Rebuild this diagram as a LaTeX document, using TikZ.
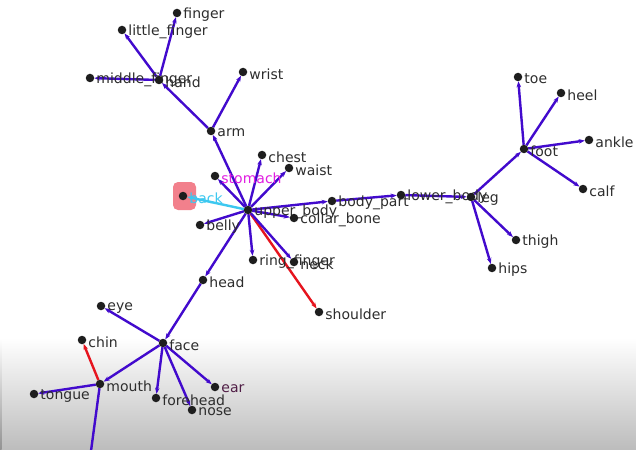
\documentclass[tikz,border=0pt]{standalone}
\usepackage{fontspec}
\setmainfont{DejaVu Sans}
\usetikzlibrary{arrows.meta}
\definecolor{edgec}{RGB}{66,10,205}
\definecolor{dotc}{RGB}{30,30,30}
\definecolor{txtc}{RGB}{45,45,45}
\definecolor{redc}{RGB}{230,20,30}
\definecolor{cyanc}{RGB}{60,200,240}
\definecolor{magc}{RGB}{225,30,225}
\definecolor{pinkc}{RGB}{242,128,140}
\pgfdeclarelayer{bg}
\pgfdeclarelayer{edges}
\pgfsetlayers{bg,edges,main}
\tikzset{
  dot/.style={circle, fill=dotc, minimum size=8.5pt, inner sep=0pt, outer sep=0pt},
  lab/.style={anchor=west, inner sep=0pt, font=\fontsize{14}{15}\selectfont, text=txtc},
  edge/.style={draw=edgec, line width=2.4pt, -{Stealth[length=6pt,width=4.5pt]}},
  redge/.style={edge, draw=redc, -{Stealth[length=6pt,width=4.5pt,fill=redc]}},
  cedge/.style={edge, draw=cyanc}
}
\begin{document}
\begin{tikzpicture}[x=1pt, y=-1pt]
\useasboundingbox (0,0) rectangle (636,449);
\begin{pgfonlayer}{bg}
  \fill[white] (0,0) rectangle (636,449);
  \shade[top color=white, bottom color=gray!52] (0,338) rectangle (636,449);
  \shade[top color=white, bottom color=gray!85] (0,338) rectangle (1.5,449);
  \fill[pinkc, rounded corners=5pt] (173,182) rectangle (196,210);
\end{pgfonlayer}
\foreach \n/\x/\y/\t in {
  finger/177/13/finger, littlefinger/122/30/little\_finger, middlefinger/90/78/middle\_finger,
  hand/159/80/hand, wrist/243/72/wrist, arm/211/131/arm, chest/262/155/chest,
  waist/289/168/waist, upperbody/248/210/upper\_body, bodypart/332/201/body\_part,
  collarbone/294/218/collar\_bone, belly/200/225/belly, ringfinger/253/260/ring\_finger,
  neck/294/262/neck, shoulder/319/312/shoulder, head/203/280/head,
  lowerbody/401/195/lower\_body, leg/471/197/leg, foot/524/149/foot,
  toe/518/77/toe, heel/561/93/heel, ankle/589/140/ankle, calf/583/189/calf,
  thigh/516/240/thigh, hips/492/268/hips, face/163/343/face, eye/101/306/eye,
  chin/82/340/chin, mouth/100/384/mouth, tongue/34/394/tongue,
  forehead/156/398/forehead, nose/192/410/nose}
{
  \node[dot] (\n) at (\x,\y) {};
  \node[lab] (\n-l) at ([xshift=2pt,yshift=-2pt]\n.east) {\t};
}
\node[dot] (stomach) at (215,176) {};
\node[lab, text=magc] (stomach-l) at ([xshift=2pt,yshift=-2pt]stomach.east) {stomach};
\node[dot] (back) at (183,196) {};
\node[lab, text=cyanc] (back-l) at ([xshift=2pt,yshift=-2pt]back.east) {back};
\node[dot] (ear) at (215,387) {};
\node[lab, text={rgb,255:red,80;green,30;blue,70}] (ear-l) at ([xshift=2pt,yshift=-2pt]ear.east) {ear};
\coordinate (offbottom) at (91,451);
\begin{pgfonlayer}{edges}
  \draw[edge] (hand) -- (finger);
  \draw[edge] (hand) -- (littlefinger);
  \draw[edge] (hand) -- (middlefinger);
  \draw[edge] (arm) -- (hand);
  \draw[edge] (arm) -- (wrist);
  \draw[edge] (upperbody) -- (arm);
  \draw[edge] (upperbody) -- (chest);
  \draw[edge] (upperbody) -- (waist);
  \draw[edge] (upperbody) -- (stomach);
  \draw[cedge] (upperbody) -- (back);
  \draw[edge] (upperbody) -- (belly);
  \draw[edge] (upperbody) -- (ringfinger);
  \draw[redge] (upperbody) -- (shoulder);
  \draw[edge] (upperbody) -- (neck);
  \draw[edge] (upperbody) -- (head);
  \draw[edge] (upperbody) -- (collarbone);
  \draw[edge] (upperbody) -- (bodypart);
  \draw[edge] (bodypart) -- (lowerbody);
  \draw[edge] (lowerbody) -- (leg);
  \draw[edge] (leg) -- (foot);
  \draw[edge] (leg) -- (thigh);
  \draw[edge] (leg) -- (hips);
  \draw[edge] (foot) -- (toe);
  \draw[edge] (foot) -- (heel);
  \draw[edge] (foot) -- (ankle);
  \draw[edge] (foot) -- (calf);
  \draw[edge] (head) -- (face);
  \draw[edge] (face) -- (eye);
  \draw[edge] (face) -- (mouth);
  \draw[edge] (face) -- (forehead);
  \draw[edge] (face) -- (nose);
  \draw[edge] (face) -- (ear);
  \draw[redge] (mouth) -- (chin);
  \draw[edge] (mouth) -- (tongue);
  \draw[edge, -] (mouth) -- (offbottom);
\end{pgfonlayer}
\end{tikzpicture}
\end{document}
